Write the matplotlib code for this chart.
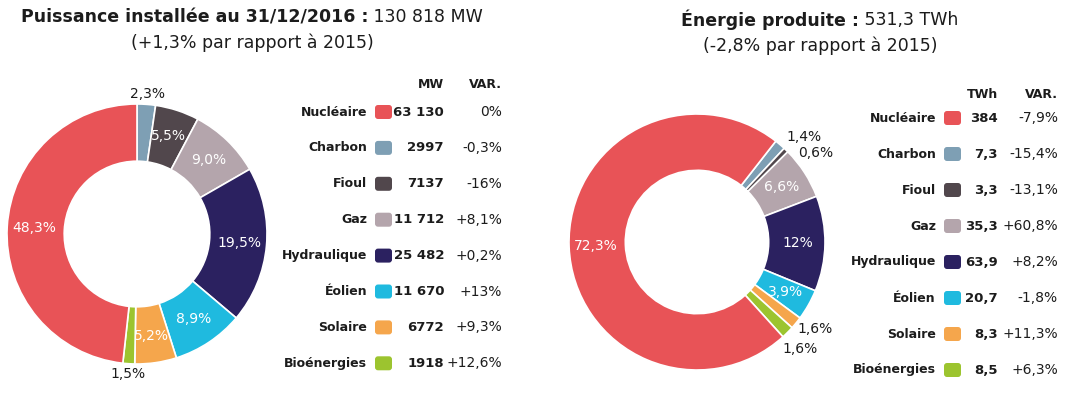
import numpy as np
import matplotlib.pyplot as plt
from matplotlib.patches import FancyBboxPatch

plt.rcParams['font.family'] = 'DejaVu Sans'

filieres = ["Nucléaire", "Charbon", "Fioul", "Gaz", "Hydraulique", "Éolien", "Solaire", "Bioénergies"]
colors = ["#E85357", "#7E9FB4", "#51474C", "#B4A5AC", "#2B2160", "#1FBADF", "#F5A64C", "#9CC42F"]

# Puissance installée (MW)
puissance_mw = [63130, 2997, 7137, 11712, 25482, 11670, 6772, 1918]
puissance_var = ["0%", "-0,3%", "-16%", "+8,1%", "+0,2%", "+13%", "+9,3%", "+12,6%"]
puissance_pct = ["48,3%", "2,3%", "5,5%", "9,0%", "19,5%", "8,9%", "5,2%", "1,5%"]

# Énergie produite (TWh)
energie_twh = [384, 7.3, 3.3, 35.3, 63.9, 20.7, 8.3, 8.5]
energie_var = ["-7,9%", "-15,4%", "-13,1%", "+60,8%", "+8,2%", "-1,8%", "+11,3%", "+6,3%"]
energie_pct = ["72,3%", "1,4%", "0,6%", "6,6%", "12%", "3,9%", "1,6%", "1,6%"]

TXT = "#1c1c1c"
W, H = 1087, 397
fig = plt.figure(figsize=(W / 100, H / 100), dpi=100)


def px_rect(cx, cy, r):
    return [(cx - r) / W, (H - cy - r) / H, 2 * r / W, 2 * r / H]


def donut(rect, values, pct, start, outside):
    ax = fig.add_axes(rect)
    # nuclear is drawn last so that it closes the ring at the start angle
    order = list(range(1, len(values))) + [0]
    wedges, _ = ax.pie([values[i] for i in order], colors=[colors[i] for i in order],
                       startangle=start, counterclock=False, radius=1,
                       wedgeprops=dict(width=0.44, edgecolor="white", linewidth=1.2))
    for w, i in zip(wedges, order):
        th = np.deg2rad((w.theta1 + w.theta2) / 2)
        if i in outside:
            r, dth, ha = outside[i]
            th = th + np.deg2rad(dth)
            ax.text(r * np.cos(th), r * np.sin(th), pct[i], ha=ha, va="center",
                    fontsize=10, color=TXT)
        else:
            ax.text(0.79 * np.cos(th), 0.79 * np.sin(th), pct[i], ha="center",
                    va="center", fontsize=10, color="white")
    ax.set_xlim(-1, 1)
    ax.set_ylim(-1, 1)
    ax.axis("off")


donut(px_rect(137, 234, 130), puissance_mw, puissance_pct, 90,
      {1: (1.08, 0, "center"), 7: (1.08, 0, "center")})
donut(px_rect(697, 242, 128), energie_twh, energie_pct, 52,
      {1: (1.08, 0, "left"), 2: (1.05, -4.5, "left"),
       6: (1.04, -1.6, "left"), 7: (1.07, -6.7, "left")})

# overlay in pixel coordinates for titles and tables
ov = fig.add_axes([0, 0, 1, 1], facecolor="none")
ov.set_xlim(0, W)
ov.set_ylim(H, 0)
ov.axis("off")
renderer = fig.canvas.get_renderer()


def title(cx, y, bold, regular, sub):
    t1 = ov.text(0, y, bold, fontweight="bold", fontsize=12.5, va="center", color=TXT)
    t2 = ov.text(0, y, regular, fontsize=12.5, va="center", color=TXT)
    w1 = t1.get_window_extent(renderer).width
    w2 = t2.get_window_extent(renderer).width
    x0 = cx - (w1 + w2) / 2
    t1.set_x(x0)
    t2.set_x(x0 + w1)
    ov.text(cx, y + 26, sub, fontsize=12.5, ha="center", va="center", color=TXT)


title(252, 17, "Puissance installée au 31/12/2016 :", " 130 818 MW", "(+1,3% par rapport à 2015)")
title(820, 20, "Énergie produite :", " 531,3 TWh", "(-2,8% par rapport à 2015)")


def table(x_lab, x_val, x_var, y_head, y0, dy, unit, vals, var):
    ov.text(x_val, y_head, unit, fontweight="bold", fontsize=9, ha="right", va="center", color=TXT)
    ov.text(x_var, y_head, "VAR.", fontweight="bold", fontsize=9, ha="right", va="center", color=TXT)
    for k, name in enumerate(filieres):
        y = y0 + k * dy
        ov.text(x_lab, y, name, fontweight="bold", fontsize=9, ha="right", va="center", color=TXT)
        ov.add_patch(FancyBboxPatch((x_lab + 8, y - 7), 17, 14,
                                    boxstyle="round,pad=0,rounding_size=3",
                                    facecolor=colors[k], edgecolor="none"))
        ov.text(x_val, y, vals[k], fontweight="bold", fontsize=9.5, ha="right", va="center", color=TXT)
        ov.text(x_var, y, var[k], fontsize=10, ha="right", va="center", color=TXT)


def fmt_mw(v):
    return f"{v:,}".replace(",", " ") if v >= 10000 else str(v)


def fmt_twh(v):
    return (f"{v:g}").replace(".", ",")


table(367, 444, 502, 85, 112, 35.9, "MW", [fmt_mw(v) for v in puissance_mw], puissance_var)
table(936, 998, 1058, 95, 118, 36, "TWh", [fmt_twh(v) for v in energie_twh], energie_var)

fig.savefig("out.png", dpi=100, facecolor="white")
